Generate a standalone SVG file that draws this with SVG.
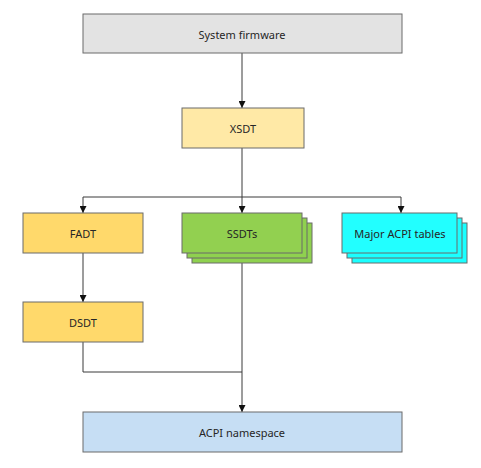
<svg xmlns="http://www.w3.org/2000/svg" width="481" height="468" viewBox="0 0 481 468">
<style>
.box{stroke:#6b6b6b;stroke-width:1}
.lbl{font-family:"Noto Sans","DejaVu Sans",sans-serif;font-size:11px;fill:#262626;text-anchor:middle;dominant-baseline:central}
.con{fill:none;stroke:#3a3a3a;stroke-width:1}
</style>
<defs>
<marker id="arr" viewBox="0 0 10 10" refX="10" refY="5" markerWidth="7" markerHeight="7" markerUnits="userSpaceOnUse" orient="auto">
<path d="M0,0 L10,5 L0,10 z" fill="#111"/>
</marker>
</defs>
<rect width="481" height="468" fill="#fff"/>
<g id="connectors">
<path class="con" d="M242,53 V108" marker-end="url(#arr)"/>
<path class="con" d="M242,148 V213" marker-end="url(#arr)"/>
<path class="con" d="M83,197 H401"/>
<path class="con" d="M83,197 V213" marker-end="url(#arr)"/>
<path class="con" d="M401,197 V213" marker-end="url(#arr)"/>
<path class="con" d="M83,253 V302" marker-end="url(#arr)"/>
<path class="con" d="M83,342 V372 H242"/>
<path class="con" d="M242,263 V412" marker-end="url(#arr)"/>
</g>
<g id="system-firmware">
<rect class="box" x="83" y="14" width="319" height="39" fill="#e3e3e3"/>
<text class="lbl" x="242" y="34">System firmware</text>
</g>
<g id="xsdt">
<rect class="box" x="182" y="108" width="122" height="40" fill="#ffe9a6"/>
<text class="lbl" x="243" y="128">XSDT</text>
</g>
<g id="fadt">
<rect class="box" x="23" y="213" width="120" height="40" fill="#ffd96b"/>
<text class="lbl" x="83" y="233">FADT</text>
</g>
<g id="ssdts">
<rect class="box" x="192" y="223" width="120" height="40" fill="#8fd14f"/>
<rect class="box" x="187" y="218" width="120" height="40" fill="#8fd14f"/>
<rect class="box" x="182" y="213" width="120" height="40" fill="#92d050"/>
<text class="lbl" x="242" y="233">SSDTs</text>
</g>
<g id="major-acpi-tables">
<rect class="box" x="352" y="223" width="115" height="40" fill="#1affff"/>
<rect class="box" x="347" y="218" width="115" height="40" fill="#1affff"/>
<rect class="box" x="342" y="213" width="115" height="40" fill="#22ffff"/>
<text class="lbl" x="400" y="233">Major ACPI tables</text>
</g>
<g id="dsdt">
<rect class="box" x="23" y="302" width="120" height="40" fill="#ffd96b"/>
<text class="lbl" x="83" y="322">DSDT</text>
</g>
<g id="acpi-namespace">
<rect class="box" x="83" y="412" width="319" height="40" fill="#c6def4"/>
<text class="lbl" x="242" y="432">ACPI namespace</text>
</g>
</svg>
